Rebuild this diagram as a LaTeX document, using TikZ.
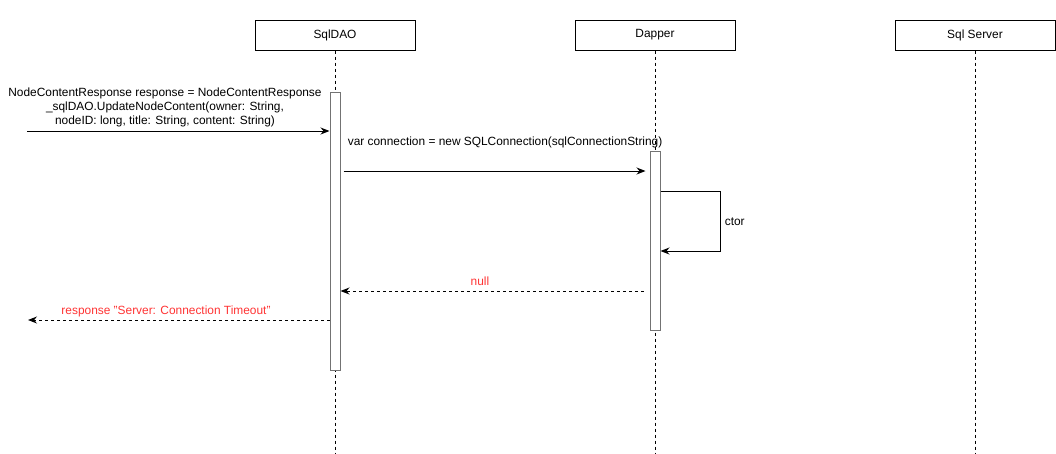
\documentclass[tikz,border=0pt]{standalone}
\usepackage{fontspec}
\setmainfont{Liberation Sans}
\usetikzlibrary{arrows.meta}
\definecolor{msgred}{RGB}{255,51,51}
\tikzset{
  participant/.style={draw, minimum width=160pt, minimum height=30pt, inner sep=0pt},
  lifeline/.style={dash pattern=on 3pt off 3pt},
  actbar/.style={draw=black!55, fill=white, minimum width=10pt, inner sep=0pt},
  msg/.style={-{Stealth[length=9pt,width=7pt]}},
  reply/.style={msg, dash pattern=on 3pt off 3pt},
}
\begin{document}
\begin{tikzpicture}[x=1pt, y=-1pt, line width=1pt, font=\fontsize{11.9}{14.2}\selectfont]
		\useasboundingbox (0,0) rectangle (1056,453);
		% participants
		\node[participant] (dao) at (335, 35) {SqlDAO};
		\node[participant] (dap) at (655, 35) {Dapper};
		\node[participant] (srv) at (975, 35) {Sql Server};

		\coordinate (daoEnd) at (335, 453);
		\coordinate (dapEnd) at (655, 453);
		\coordinate (srvEnd) at (975, 453);

		\path (dao) edge[lifeline] (daoEnd)
		(dap) edge[lifeline] (dapEnd)
		(srv) edge[lifeline] (srvEnd);

		% activations
		\node[actbar, minimum height=278pt] (daoAct) at (335, 231) {};
		\node[actbar, minimum height=179pt] (dapAct) at (655, 240.5) {};

		% messages
		\coordinate (callIn) at (27, 131);
		\coordinate (callOut) at (28, 320);
		\coordinate (connY) at (0, 171);
		\coordinate (nullY) at (0, 291);
		\coordinate (loopA) at (720, 191);
		\coordinate (loopB) at (720, 251);

		\draw[msg] (callIn) -- (daoAct.west |- callIn);
		\node[align=center] (callLbl) at (165, 107.5) {NodeContentResponse response = NodeContentResponse\\
			\_sqlDAO.UpdateNodeContent(owner: String,\\
			nodeID: long, title: String, content: String)};

		\draw[msg, shorten <=3pt, shorten >=4pt] (daoAct.east |- connY) -- (dapAct.west |- connY);
		\node[anchor=west] (connLbl) at (344, 142) {var connection = new SQLConnection(sqlConnectionString)};

		\draw[msg] (dapAct.east |- loopA) -- (loopA) -- (loopB) -- (dapAct.east |- loopB);
		\node[anchor=west] (ctorLbl) at (721, 222) {ctor};

		\draw[reply, shorten <=6pt] (dapAct.west |- nullY) -- (daoAct.east |- nullY);
		\node[text=msgred] (nullLbl) at (480, 281) {null};

		\draw[reply] (daoAct.west |- callOut) -- (callOut);
		\node[text=msgred] (respLbl) at (166, 311) {response "Server: Connection Timeout"};
	\end{tikzpicture}
\end{document}
